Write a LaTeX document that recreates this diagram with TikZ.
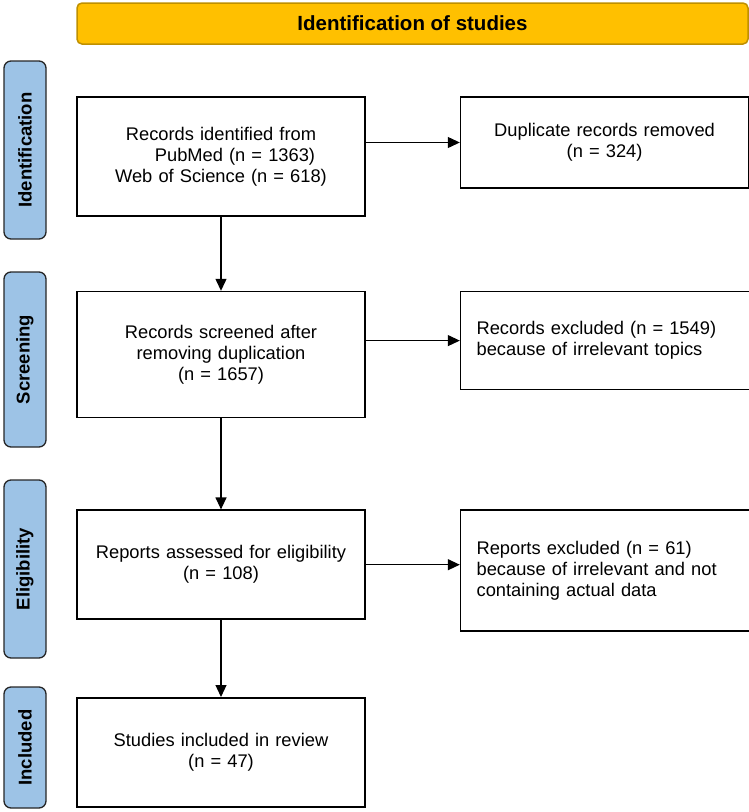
\documentclass[tikz,border=0pt]{standalone}
\usepackage{fontspec}
\setmainfont{Liberation Sans}
\usepackage{xcolor}
\usepackage{tikz}
\usetikzlibrary{arrows.meta, positioning}
\definecolor{headfill}{HTML}{FFC000}
\definecolor{headdraw}{HTML}{BF9000}
\definecolor{phasefill}{HTML}{9DC3E6}
\tikzstyle{header} = [rectangle, rounded corners=5pt, minimum width=671pt, minimum height=41pt, draw=headdraw, line width=1.5pt, fill=headfill, font=\fontsize{20.5}{24}\selectfont\bfseries]
\tikzstyle{phase} = [rectangle, rounded corners=7pt, rotate=90, minimum height=42pt, draw=black!85, line width=1.3pt, fill=phasefill, font=\fontsize{18.5}{22}\selectfont\bfseries]
\tikzstyle{record} = [rectangle, text width=272pt, inner xsep=8pt, align=center, draw=black, line width=1.6pt, font=\fontsize{18.3}{21}\selectfont]
\tikzstyle{excluded} = [rectangle, text width=257pt, inner xsep=16pt, align=left, draw=black, line width=1.6pt, font=\fontsize{18.3}{21}\selectfont]
\tikzstyle{arrow} = [line width=1.2pt, -{Triangle[length=12pt, width=11pt]}]

\begin{document}
\begin{tikzpicture}
    \useasboundingbox (0,0) rectangle (749pt,-812pt);

    \node (head) [header] at (412.5pt,-23.5pt) {Identification of studies};

    \node (p1) [phase, minimum width=178pt] at (25pt,-150pt) {Identification};
    \node (p2) [phase, minimum width=175pt] at (25pt,-359.5pt) {Screening};
    \node (p3) [phase, minimum width=178pt] at (25pt,-569pt) {Eligibility};
    \node (p4) [phase, minimum width=121pt] at (25pt,-747.5pt) {Included};

    \node (ident) [record, minimum height=119pt] at (221pt,-156.5pt) {Records identified from\\ \hspace*{28pt}PubMed (n = 1363)\\ Web of Science (n = 618)};
    \node (screen) [record, minimum height=126pt, below=74pt of ident] {Records screened after\\ removing duplication\\ (n = 1657)};
    \node (assess) [record, minimum height=109pt, below=91pt of screen] {Reports assessed for eligibility\\ (n = 108)};
    \node (incl) [record, minimum height=109pt, below=77pt of assess] {Studies included in review\\ (n = 47)};

    \node (dup) [record, minimum height=91pt, right=94pt of ident.north east, anchor=north west] {Duplicate records removed\\ (n = 324)};
    \node (excl1) [excluded, minimum height=98pt, right=94pt of screen.north east, anchor=north west] {Records excluded (n = 1549)\\ because of irrelevant topics};
    \node (excl2) [excluded, minimum height=121pt, right=94pt of assess.north east, anchor=north west] {Reports excluded (n = 61)\\ because of irrelevant and not\\ containing actual data};

    \draw [arrow] (ident.east |- dup.west) -- (dup.west);
    \draw [arrow] (screen.east |- excl1.west) -- (excl1.west);
    \draw [arrow] (assess.east) -- (assess.east -| excl2.west);
    \draw [arrow] (ident) -- (screen);
    \draw [arrow] (screen) -- (assess);
    \draw [arrow] (assess) -- (incl);
\end{tikzpicture}
\end{document}
